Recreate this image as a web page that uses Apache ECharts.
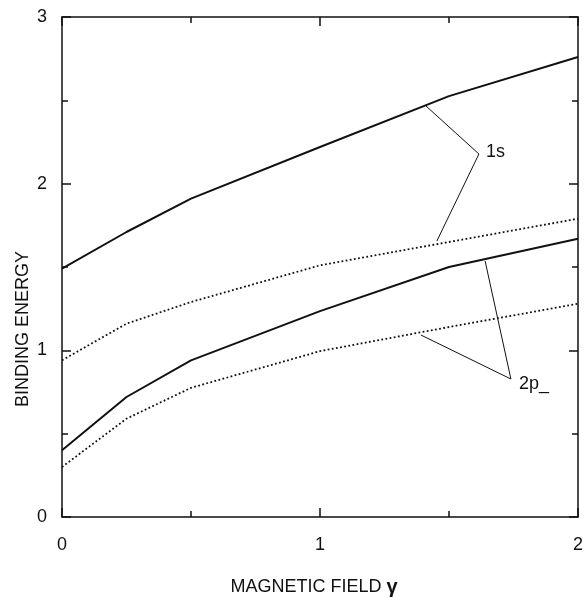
<!DOCTYPE html>
<html>
<head>
<meta charset="utf-8">
<script src="https://cdn.jsdelivr.net/npm/echarts@6/dist/echarts.min.js"></script>
<style>
html,body{margin:0;padding:0;background:#fff;}
#chart{width:586px;height:597px;}
</style>
</head>
<body>
<div id="chart"></div>
<script>
// Data
const gamma = [0, 0.25, 0.5, 1, 1.5, 2];
const s1Solid  = [1.49, 1.71, 1.91, 2.22, 2.525, 2.76];
const s1Dotted = [0.94, 1.16, 1.29, 1.51, 1.65, 1.79];
const p2Solid  = [0.40, 0.72, 0.94, 1.235, 1.50, 1.67];
const p2Dotted = [0.30, 0.59, 0.775, 0.995, 1.14, 1.28];
const xTicks = [0, 1, 2];
const yTicks = [0, 1, 2, 3];

// Annotation leaders (data coords)
const label1s = {text: '1s', at: [1.643, 2.19], apex: [1.616, 2.178], ends: [[1.411, 2.466], [1.453, 1.656]]};
const label2p = {text: '2p_', at: [1.771, 0.80], apex: [1.740, 0.828], ends: [[1.391, 1.092], [1.640, 1.536]]};

const FONT = 'Liberation Sans';
const INK = '#111';
const FS = 18;

function zip(xs, ys){ return xs.map((x,i)=>[x, ys[i]]); }

function leaderLines(lbl){
  return lbl.ends.map(e => [{coord: lbl.apex}, {coord: e}]);
}

const chart = echarts.init(document.getElementById('chart'), null, {renderer:'canvas'});

const axisCommon = {
  axisLine: {show: true, onZero: false, lineStyle: {color: INK, width: 1.5}},
  axisTick: {show: true, inside: true, length: 9, lineStyle: {color: INK, width: 1.5}},
  minorTick: {show: true, splitNumber: 2, length: 6, lineStyle: {color: INK, width: 1.5}},
  splitLine: {show: false}
};

const option = {
  backgroundColor: '#fff',
  animation: false,
  grid: {left: 62, right: 8, top: 17, bottom: 80, containLabel: false},
  xAxis: [
    Object.assign({type: 'value', min: 0, max: 2, interval: 1, position: 'bottom',
      axisLabel: {show: true, margin: 19, color: INK, fontFamily: FONT, fontSize: FS,
        formatter: v => xTicks.includes(v) ? String(v) : ''}}, axisCommon),
    Object.assign({type: 'value', min: 0, max: 2, interval: 1, position: 'top',
      axisLabel: {show: false}}, axisCommon)
  ],
  yAxis: [
    Object.assign({type: 'value', min: 0, max: 3, interval: 1, position: 'left',
      axisLabel: {show: true, margin: 15, color: INK, fontFamily: FONT, fontSize: FS,
        formatter: v => yTicks.includes(v) ? String(v) : ''}}, axisCommon),
    Object.assign({type: 'value', min: 0, max: 3, interval: 1, position: 'right',
      axisLabel: {show: false}}, axisCommon)
  ],
  series: [
    {type: 'line', name: '1s', data: zip(gamma, s1Solid), showSymbol: false, symbol: 'none',
      lineStyle: {color: INK, width: 2}, z: 3,
      markLine: {silent: true, symbol: ['none','none'], animation: false,
        lineStyle: {color: INK, width: 1, type: 'solid'}, label: {show: false},
        data: leaderLines(label1s)},
      markPoint: {silent: true, symbol: 'circle', symbolSize: 0,
        data: [{coord: label1s.at, value: label1s.text,
          label: {show: true, position: 'right', distance: 0, formatter: label1s.text,
            color: INK, fontFamily: FONT, fontSize: FS}}]}
    },
    {type: 'line', name: '1s dotted', data: zip(gamma, s1Dotted), showSymbol: false, symbol: 'none',
      lineStyle: {color: INK, width: 1.8, type: [1.8, 2.4]}, z: 3},
    {type: 'line', name: '2p', data: zip(gamma, p2Solid), showSymbol: false, symbol: 'none',
      lineStyle: {color: INK, width: 2}, z: 3,
      markLine: {silent: true, symbol: ['none','none'], animation: false,
        lineStyle: {color: INK, width: 1, type: 'solid'}, label: {show: false},
        data: leaderLines(label2p)},
      markPoint: {silent: true, symbol: 'circle', symbolSize: 0,
        data: [{coord: label2p.at, value: label2p.text,
          label: {show: true, position: 'right', distance: 0, formatter: label2p.text,
            color: INK, fontFamily: FONT, fontSize: FS}}]}
    },
    {type: 'line', name: '2p dotted', data: zip(gamma, p2Dotted), showSymbol: false, symbol: 'none',
      lineStyle: {color: INK, width: 1.8, type: [1.8, 2.4]}, z: 3}
  ],
  graphic: [
    {type: 'text', x: 23.5, y: 329, rotation: Math.PI / 2,
      style: {text: 'BINDING ENERGY', fill: INK, font: FS + 'px "Liberation Sans"',
        textAlign: 'center', textVerticalAlign: 'middle'}},
    {type: 'text', x: 314, y: 587,
      style: {text: 'MAGNETIC FIELD {g|γ}', fill: INK, font: FS + 'px "Liberation Sans"',
        textAlign: 'center', textVerticalAlign: 'middle',
        rich: {g: {fontFamily: FONT, fontSize: 20, fontWeight: 'bold', fill: INK}}}}
  ]
};

chart.setOption(option);
</script>
</body>
</html>
